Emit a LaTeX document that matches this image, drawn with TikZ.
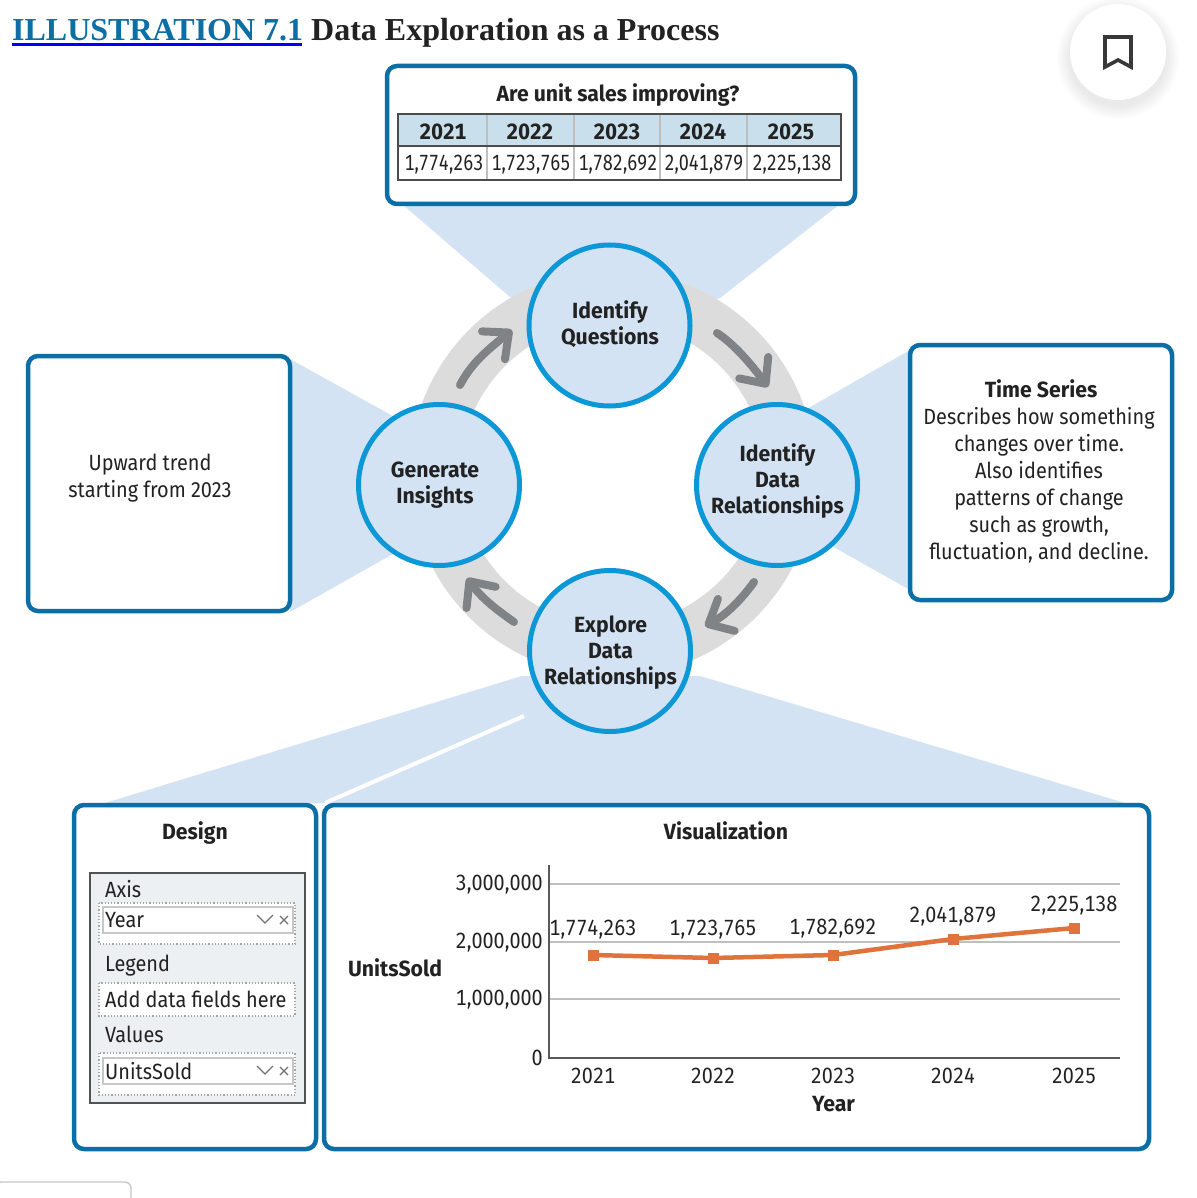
\documentclass[tikz,border=0pt]{standalone}
\usepackage{fontspec}
\usetikzlibrary{arrows.meta}
\setmainfont[FakeStretch=0.905,BoldFeatures={FakeStretch=0.965}]{Fira Sans}
\newfontfamily\serifttl{Liberation Serif}
\newfontfamily\tabfig[Numbers=Monospaced,FakeStretch=0.9,BoldFeatures={FakeStretch=0.945}]{Fira Sans}
\newfontfamily\tabnarrow[Numbers=Monospaced,FakeStretch=0.815]{Fira Sans}
\definecolor{pbord}{HTML}{0B6FA6}
\definecolor{cbord}{HTML}{0C97D6}
\definecolor{lblue}{HTML}{D4E3F4}
\definecolor{ringg}{HTML}{DCDCDD}
\definecolor{arrowg}{HTML}{7F8385}
\definecolor{ink}{HTML}{222222}
\definecolor{thead}{HTML}{C9E0EC}
\definecolor{orangeL}{HTML}{E0733B}
\definecolor{panelg}{HTML}{ECF0F2}
\newcommand{\fsR}{\fontsize{22}{27}\selectfont}
\newcommand{\fsB}{\fontsize{22}{26}\selectfont\bfseries}
\tikzset{
  panel/.style={draw=pbord,line width=4.5pt,rounded corners=10pt,fill=white,anchor=north west,inner sep=0pt,outer sep=0pt},
  stepcirc/.style={circle,draw=cbord,line width=5pt,fill=lblue,minimum size=161pt,inner sep=0pt},
  callout/.style={fill=lblue,draw=none},
  txt/.style={text=ink,font=\fsR,inner sep=0pt,align=center},
  txtb/.style={text=ink,font=\fsB,inner sep=0pt,align=center},
  txtl/.style={text=ink,font=\fsR,inner sep=0pt,anchor=west},
  cyclearrow/.style={draw=arrowg,line width=8pt,line cap=round,-{Straight Barb[length=20pt,width=36pt,round]}},
  dotbox/.style={draw=black!35,line width=1.2pt,dotted,fill=white},
  fieldbox/.style={draw=black!22,line width=1.6pt,fill=white},
  grid line/.style={draw=black!25,line width=1.6pt},
  axis line/.style={draw=black!65,line width=1.4pt},
  marker/.style={fill=orangeL,inner sep=0pt,minimum size=11pt,rectangle},
}
\begin{document}
\begin{tikzpicture}[x=1pt,y=-1pt]
\useasboundingbox (0,0) rectangle (1196,1198);
\fill[white] (0,0) rectangle (1196,1198);
% title
\node[anchor=base west,inner sep=0pt,font=\serifttl\fontsize{32}{36}\selectfont\bfseries,text=pbord] (ttlA) at (12,41) {ILLUSTRATION 7.1};
\node[anchor=base west,inner sep=0pt,font=\serifttl\fontsize{32}{36}\selectfont\bfseries,text=ink] (ttlB) at (311,41) {Data Exploration as a Process};
\draw[blue,line width=2.5pt] (ttlA.base west)++(0,3.5) -- ++(290,0);
% bookmark
\foreach \r in {49,51,...,61}{\fill[black,opacity=0.010] (1118,58) circle (\r);}
\node[circle,fill=white,minimum size=96pt,inner sep=0pt] (bm) at (1118,52) {};
\draw[draw=black!78,line width=3.6pt,miter limit=4] (1105,37) -- (1131,37) -- (1131,67) -- (1118,60) -- (1105,67) -- cycle;
% tail of next element
\draw[draw=black!22,line width=1.4pt,rounded corners=6pt] (-5,1215) -- (-5,1182) -- (131,1182) -- (131,1215);
% callout wedges
\fill[callout] (402,204) -- (840,204) -- (720,298) -- (609,330) -- (510,297) -- cycle;
\fill[callout] (290,359) -- (400,420) -- (400,550) -- (290,612) -- cycle;
\fill[callout] (910,350) -- (805,410) -- (830,545) -- (910,590) -- cycle;
\fill[callout] (522,676) -- (700,676) -- (1125,803) -- (105,803) -- cycle;
\draw[white,line width=4pt] (524,716) -- (325,803);
% ring
\draw[ringg,line width=51pt] (612.5,473.5) circle (177.5);
% circles
\node[stepcirc] (q) at (609.5,325.5) {};
\node[stepcirc] (r) at (777,485) {};
\node[stepcirc] (e) at (610,651) {};
\node[stepcirc] (g) at (439,485) {};
\node[txtb] (qt) at (610,324) {Identify\\Questions};
\node[txtb] (rt) at (777.5,481.5) {Identify\\Data\\Relationships};
\node[txtb] (et) at (610.5,653) {Explore\\Data\\Relationships};
\node[txtb] (gt) at (435,485) {Generate\\Insights};
% arrows
\coordinate (a1s) at (460,385); \coordinate (a1e) at (512,330);
\coordinate (a2s) at (717,333); \coordinate (a2e) at (768,387);
\coordinate (a3s) at (754,582); \coordinate (a3e) at (705,626);
\coordinate (a4s) at (514,622); \coordinate (a4e) at (467,578);
\draw[cyclearrow] (a1s) .. controls (472,362) and (489,349) .. (a1e);
\draw[cyclearrow] (a2s) .. controls (734,344) and (751,364) .. (a2e);
\draw[cyclearrow] (a3s) .. controls (744,596) and (728,614) .. (a3e);
\draw[cyclearrow] (a4s) .. controls (500,612) and (483,600) .. (a4e);
% panels
\node[panel,minimum width=468pt,minimum height=138pt] (pq) at (387,66) {};
\node[panel,minimum width=262pt,minimum height=255pt] (pg) at (28,356) {};
\node[panel,minimum width=262pt,minimum height=255pt] (pr) at (910,345) {};
\node[panel,minimum width=242pt,minimum height=344pt] (pd) at (74,805) {};
\node[panel,minimum width=825pt,minimum height=344pt] (pv) at (324,805) {};
% top table
\node[txtb] (tq) at (618,95) {Are unit sales improving?};
\fill[thead] (398,114) rectangle (841,146);
\draw[black!25,line width=1.2pt] (487,114) -- (487,180) (574,114) -- (574,180) (660,114) -- (660,180) (747,114) -- (747,180);
\draw[black!70,line width=2.4pt] (398,114) rectangle (841,180) (398,146) -- (841,146);
\foreach \n/\x/\y/\v in {a/443/2021/1{,}774{,}263,b/530/2022/1{,}723{,}765,c/617/2023/1{,}782{,}692,d/703/2024/2{,}041{,}879,e/791/2025/2{,}225{,}138}{
  \node[txtb,font=\tabfig\fsB] (th\n) at (\x,132) {\y};
  \node[txt,font=\tabnarrow\fsR] (tv\n) at (\x+1,164.5) {\v};
}
% left and right panel text
\node[txt] (tg) at (150,478) {Upward trend\\starting from 2023};
\node[txt] (tr) at (1039,471) {\hspace*{4pt}\textbf{Time Series}\\Describes how something\\changes over time.\\Also identifies\\patterns of change\\such as growth,\\fluctuation, and decline.};
% design panel
\node[txtb] (dt) at (195,833) {Design};
\draw[fill=panelg,draw=black!68,line width=2.4pt] (90,873) rectangle (305,1103);
\node[txtl] (dA) at (105,889) {Axis};
\draw[dotbox] (99,903) rectangle (295,944);
\draw[fieldbox] (103,907) rectangle (293,933);
\node[txtl] (dY) at (105,920) {Year};
\node[txtl] (dL) at (105,966) {Legend};
\draw[dotbox] (99,983) rectangle (295,1016);
\node[txtl] (dF) at (105,999) {Add data fields here};
\node[txtl] (dV) at (105,1034) {Values};
\draw[dotbox] (99,1053) rectangle (295,1095);
\draw[fieldbox] (103,1058) rectangle (293,1084);
\node[txtl] (dU) at (105,1071) {UnitsSold};
\foreach \yy in {920,1071}{
  \draw[black!55,line width=1.2pt] (257,\yy-5) -- (265,\yy+3) -- (273,\yy-5);
  \draw[black!55,line width=1.2pt] (280,\yy-4) -- (288,\yy+4) (288,\yy-4) -- (280,\yy+4);
}
% chart
\node[txtb] (vt) at (726,831) {Visualization};
\foreach \yy in {884,942,999}{\draw[grid line] (549,\yy) -- (1120,\yy);}
\draw[axis line] (549,865) -- (549,1058) -- (1120,1058);
\foreach \yy/\l in {885/{3,000,000},943/{2,000,000},1000/{1,000,000},1058/0}{
  \node[txt,anchor=east,font=\tabfig\fsR] at (543,\yy) {\l};
}
\node[txtb] (yl) at (395,968) {UnitsSold};
\node[txtb] (xl) at (833.5,1104) {Year};
\foreach \n/\x/\y/\v/\ly/\yr in {1/593/955/{1,774,263}/930/2021,2/713/958/{1,723,765}/930/2022,3/833/955/{1,782,692}/929/2023,4/953/939/{2,041,879}/917/2024,5/1074/928/{2,225,138}/906/2025}{
  \node[marker] (m\n) at (\x,\y) {};
  \node[txt,font=\tabfig\fsR] (l\n) at (\x,\ly) {\v};
  \node[txt,font=\tabfig\fsR] (x\n) at (\x,1076) {\yr};
}
\draw[orangeL,line width=4.5pt,line join=round] (m1.center) -- (m2.center) -- (m3.center) -- (m4.center) -- (m5.center);
\end{tikzpicture}
\end{document}
